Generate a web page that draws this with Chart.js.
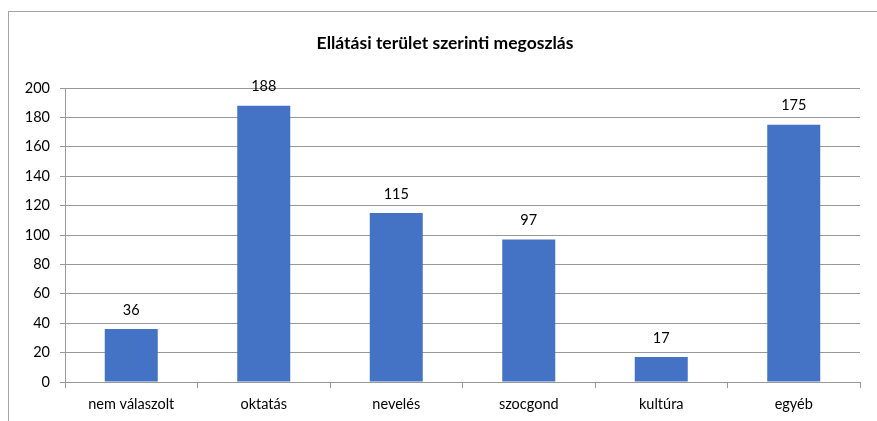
<!DOCTYPE html>
<html>
<head>
<meta charset="utf-8">
<script src="https://cdn.jsdelivr.net/npm/chart.js@4"></script>
<style>
  html, body { margin: 0; padding: 0; background: #fff; overflow: hidden; }
  #frame { position: absolute; left: 8px; top: 11px; width: 900px; height: 440px;
           border: 1px solid #a6a6a6; box-sizing: border-box; }
  #wrap { position: absolute; left: 0; top: 0; width: 890px; height: 421px; }
</style>
</head>
<body>
<div id="frame"></div>
<div id="wrap"><canvas id="barChart" width="890" height="421"></canvas></div>
<script>
  const categories = ["nem válaszolt", "oktatás", "nevelés", "szocgond", "kultúra", "egyéb"];
  const counts = [36, 188, 115, 97, 17, 175];
  const yTicks = [0, 20, 40, 60, 80, 100, 120, 140, 160, 180, 200];

  const font = "Lato";

  // write the value above each bar
  const valueLabels = {
    id: "valueLabels",
    afterDatasetsDraw(chart) {
      const ctx = chart.ctx;
      const meta = chart.getDatasetMeta(0);
      ctx.save();
      ctx.font = "14.5px " + font;
      ctx.fillStyle = "#000";
      ctx.textAlign = "center";
      ctx.textBaseline = "middle";
      meta.data.forEach((bar, i) => {
        ctx.fillText(String(counts[i]), bar.x, bar.y - 19);
      });
      ctx.restore();
    }
  };

  let ctx = document.getElementById("barChart").getContext("2d");

  new Chart(ctx, {
    type: "bar",
    data: {
      labels: categories,
      datasets: [{
        data: counts,
        backgroundColor: "#4472C4",
        borderWidth: 0,
        categoryPercentage: 1,
        barPercentage: 0.4,
      }],
    },
    options: {
      responsive: false,
      animation: false,
      plugins: {
        legend: { display: false },
        tooltip: { enabled: false },
        title: {
          display: true,
          text: "Ellátási terület szerinti megoszlás",
          color: "#000",
          font: { family: font, size: 17.5, weight: "bold" },
          padding: { top: 33, bottom: 34 },
        },
      },
      scales: {
        y: {
          min: 0,
          max: 200,
          afterBuildTicks: (axis) => { axis.ticks = yTicks.map(v => ({ value: v })); },
          afterFit: (axis) => { axis.width = 65; },
          border: { color: "#989898", width: 1 },
          grid: { color: "#989898", lineWidth: 1, tickLength: 5 },
          ticks: { color: "#000", font: { family: font, size: 14.5 }, padding: 10 },
        },
        // empty right axis, only keeps space so the title stays centred on the frame
        yRight: {
          position: "right",
          min: 0,
          max: 200,
          afterFit: (axis) => { axis.width = 30; },
          border: { display: false },
          grid: { display: false },
          ticks: { display: false },
        },
        x: {
          afterFit: (axis) => { axis.height = 39; },
          border: { color: "#989898", width: 1 },
          grid: { offset: true, drawOnChartArea: false, color: "#989898", tickLength: 6 },
          ticks: { color: "#000", font: { family: font, size: 14.5 }, padding: 8 },
        },
      },
    },
    plugins: [valueLabels],
  });
</script>
</body>
</html>
